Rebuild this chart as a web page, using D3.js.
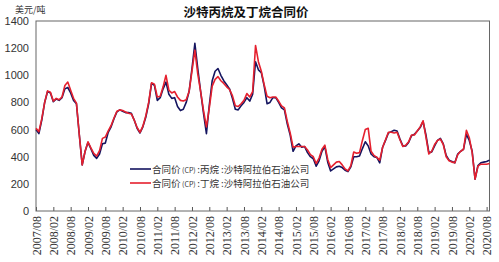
<!DOCTYPE html>
<html>
<head>
<meta charset="utf-8">
<script src="https://cdn.jsdelivr.net/npm/d3@7"></script>
<style>
  body { margin: 0; background: #fff; }
  svg { display: block; }
</style>
</head>
<body>
<svg id="chart" width="499" height="262"></svg>
<script>
// monthly contract price, 2007/08 .. 2020/09 (USD/t)
const propane = [600, 570, 670, 800, 880, 870, 805, 825, 815, 835, 900, 910, 870, 815, 790, 560, 340, 440, 505, 460,
  410, 388, 420, 495, 500, 580, 620, 680, 730, 745, 735, 725, 725, 720, 670, 610, 575, 620, 690, 790,
  940, 925, 815, 835, 900, 950, 860, 830, 835, 770, 740, 750, 800, 880, 1050, 1235, 1050, 880, 720, 570,
  780, 960, 1030, 1050, 1000, 960, 930, 900, 830, 750, 745, 775, 800, 835, 810, 860, 1100, 1040, 1020, 920,
  790, 800, 835, 835, 800, 760, 745, 640, 560, 440, 480, 495, 470, 475, 430, 400, 385, 330, 370, 440,
  475, 360, 295, 310, 325, 330, 320, 300, 290, 325, 400, 400, 405, 460, 510, 480, 420, 400, 395, 355,
  470, 520, 575, 585, 595, 590, 530, 480, 480, 505, 555, 565, 590, 615, 660, 560, 430, 435, 480, 520,
  535, 495, 410, 375, 365, 355, 420, 440, 455, 565, 520, 440, 235, 335, 355, 360, 365, 375]
const butane = [610, 585, 680, 800, 885, 875, 810, 830, 820, 840, 925, 950, 890, 830, 795, 560, 340, 440, 510, 465,
  425, 405, 445, 535, 545, 590, 630, 685, 735, 745, 740, 730, 720, 715, 670, 615, 580, 625, 700, 800,
  945, 935, 840, 845, 915, 1000, 890, 870, 880, 840, 815, 810, 820, 880, 1030, 1185, 1010, 880, 740, 620,
  760, 920, 970, 990, 960, 940, 915, 895, 850, 775, 770, 790, 815, 865, 840, 880, 1220, 1100, 1030, 930,
  845, 835, 840, 840, 810, 775, 760, 660, 575, 470, 475, 475, 475, 475, 450, 415, 400, 350, 390, 455,
  485, 380, 320, 340, 360, 365, 340, 310, 295, 335, 435, 425, 430, 520, 600, 610, 440, 410, 395, 375,
  470, 525, 580, 580, 575, 580, 525, 475, 485, 510, 560, 560, 590, 620, 665, 545, 420, 440, 490, 520,
  530, 490, 400, 370, 360, 355, 415, 440, 455, 595, 540, 430, 235, 330, 345, 345, 345, 350]
const tickLabels = ['2007/08', '2008/02', '2008/08', '2009/02', '2009/08', '2010/02', '2010/08', '2011/02', '2011/08',
  '2012/02', '2012/08', '2013/02', '2013/08', '2014/02', '2014/08', '2015/02', '2015/08', '2016/02', '2016/08',
  '2017/02', '2017/08', '2018/02', '2018/08', '2019/02', '2019/08', '2020/02', '2020/08']
const yTicks = [0, 200, 400, 600, 800, 1000, 1200, 1400]
const seriesProducts = ['丙烷', '丁烷']
const colors = ['#14145f', '#e5202e']

const svg = d3.select('#chart')
const plotLeft = 36, plotRight = 489.5, plotTop = 21, plotBottom = 211

const x = d3.scaleLinear().domain([0, propane.length - 1]).range([plotLeft, plotRight])
const y = d3.scaleLinear().domain([0, 1400]).range([plotBottom, plotTop])

// title and unit
svg.append('text')
  .attr('x', 246).attr('y', 17)
  .attr('text-anchor', 'middle')
  .attr('font-family', 'Noto Sans CJK SC')
  .attr('font-weight', 'bold')
  .attr('font-size', 12.5)
  .attr('fill', '#111')
  .text('沙特丙烷及丁烷合同价')

svg.append('text')
  .attr('x', 15).attr('y', 13)
  .attr('font-family', 'Noto Sans CJK SC')
  .attr('font-size', 9)
  .attr('fill', '#333')
  .text('美元/吨')

// y axis
const yAxis = svg.append('g')
  .attr('transform', `translate(${plotLeft},0)`)
  .call(d3.axisLeft(y).tickValues(yTicks).tickFormat(d3.format('d')).tickSize(0).tickPadding(7))
yAxis.select('.domain').remove()
yAxis.selectAll('text')
  .attr('font-family', 'Liberation Sans')
  .attr('font-size', 11)
  .attr('fill', '#333')

// x axis, ticks every 6 months pointing up
const xAxis = svg.append('g')
  .attr('transform', `translate(0,${plotBottom})`)
  .call(d3.axisBottom(x)
    .tickValues(tickLabels.map((d, i) => i * 6))
    .tickFormat((d, i) => tickLabels[i])
    .tickSizeInner(-4).tickSizeOuter(0).tickPadding(5))
xAxis.select('.domain').remove()
xAxis.selectAll('line').attr('stroke', '#555')
xAxis.selectAll('text')
  .attr('font-family', 'Liberation Serif')
  .attr('font-size', 12)
  .attr('fill', '#333')
  .attr('text-anchor', 'end')
  .attr('dy', '0.35em')
  .attr('transform', 'translate(0,5) rotate(-90)')
  .attr('x', 0).attr('y', 0)

// frame
svg.append('rect')
  .attr('x', plotLeft).attr('y', plotTop)
  .attr('width', plotRight - plotLeft).attr('height', plotBottom - plotTop)
  .attr('fill', 'none')
  .attr('stroke', '#666')
  .attr('stroke-width', 1)

// lines
const line = d3.line()
  .x((d, i) => x(i))
  .y(d => y(d))

;[propane, butane].forEach((s, k) => {
  svg.append('path')
    .datum(s)
    .attr('d', line)
    .attr('fill', 'none')
    .attr('stroke', colors[k])
    .attr('stroke-width', 1.6)
    .attr('stroke-linejoin', 'round')
})

// legend
const legend = svg.append('g')
seriesProducts.forEach((p, k) => {
  const ly = 169 + k * 14
  legend.append('line')
    .attr('x1', 130).attr('x2', 151)
    .attr('y1', ly).attr('y2', ly)
    .attr('stroke', colors[k])
    .attr('stroke-width', 1.6)
  const t = legend.append('text')
    .attr('x', 152).attr('y', ly + 4)
    .attr('font-family', 'Noto Sans CJK SC')
    .attr('font-size', 9.5)
    .attr('fill', '#333')
  t.append('tspan').text('合同价')
  t.append('tspan').attr('font-size', 7).text(' (CP) ')
  t.append('tspan').text(':' + p + ' :沙特阿拉伯石油公司')
})
</script>
</body>
</html>
